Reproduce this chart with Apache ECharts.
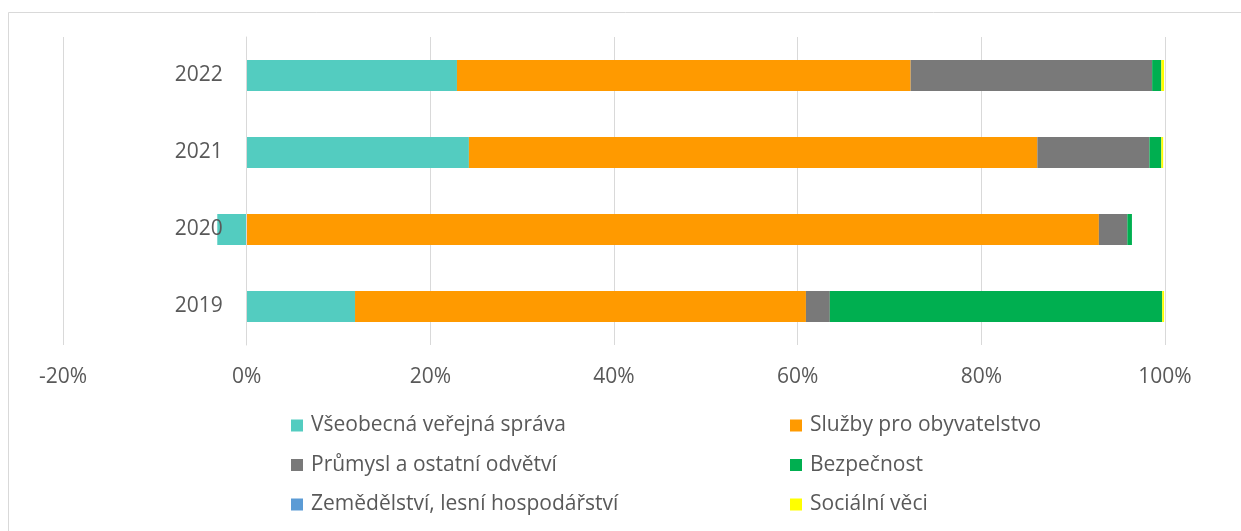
<!DOCTYPE html>
<html>
<head>
<meta charset="utf-8">
<script src="https://cdn.jsdelivr.net/npm/echarts@6/dist/echarts.min.js"></script>
<style>
  html, body { margin: 0; padding: 0; background: #fff; }
  #chart { width: 1241px; height: 531px; }
</style>
</head>
<body>
<div id="chart"></div>
<script>
const years = ['2019', '2020', '2021', '2022'];
const xTicks = [-20, 0, 20, 40, 60, 80, 100];

// shares in %
const spravaData = [11.8, -3.2, 24.2, 22.9];
const sluzbyData = [49.1, 92.8, 61.9, 49.4];
const prumyslData = [2.6, 3.1, 12.2, 26.3];
const bezpecnostData = [36.2, 0.5, 1.3, 1.0];
const zemedelstviData = [0, 0, 0, 0];
const socialniData = [0.2, 0, 0.2, 0.3];

const seriesDefs = [
  { name: 'Všeobecná veřejná správa', color: '#53CCC0', data: spravaData },
  { name: 'Služby pro obyvatelstvo', color: '#FF9A00', data: sluzbyData },
  { name: 'Průmysl a ostatní odvětví', color: '#797979', data: prumyslData },
  { name: 'Bezpečnost', color: '#00AF50', data: bezpecnostData },
  { name: 'Zemědělství, lesní hospodářství', color: '#5B9BD5', data: zemedelstviData },
  { name: 'Sociální věci', color: '#FFFF00', data: socialniData }
];

const font = '"Open Sans", "Noto Sans", sans-serif';
const textColor = '#595959';
const gridColor = '#d9d9d9';

const gridLeft = 63;
const gridRight = 76;
const plotWidth = 1241 - gridLeft - gridRight;
// the category axis sits at value 0, like in Excel
const zeroOffset = -plotWidth * 20 / 120;

const chart = echarts.init(document.getElementById('chart'));

const legendBase = {
  orient: 'vertical',
  top: 410,
  icon: 'rect',
  itemWidth: 12,
  itemHeight: 12,
  itemGap: 18.5,
  textStyle: { fontFamily: font, fontSize: 21, color: textColor, padding: [0, 0, 0, 3] },
  selectedMode: false
};

chart.setOption({
  animation: false,
  backgroundColor: '#fff',
  graphic: [
    {
      type: 'rect',
      shape: { x: 8.5, y: 12.5, width: 1400, height: 700 },
      style: { fill: 'none', stroke: gridColor, lineWidth: 1 },
      silent: true,
      z: -1
    }
  ],
  grid: { left: gridLeft, right: gridRight, top: 37, bottom: 186, containLabel: false, outerBoundsMode: 'none' },
  legend: [
    Object.assign({}, legendBase, { left: 286, data: [seriesDefs[0].name, seriesDefs[2].name, seriesDefs[4].name] }),
    Object.assign({}, legendBase, { left: 785, data: [seriesDefs[1].name, seriesDefs[3].name, seriesDefs[5].name] })
  ],
  xAxis: {
    type: 'value',
    min: -20,
    max: 100,
    interval: 20,
    axisLine: { show: false },
    axisTick: { show: false },
    splitLine: { lineStyle: { color: gridColor, width: 1 } },
    axisLabel: {
      margin: 22,
      fontFamily: font,
      fontSize: 21,
      color: textColor,
      formatter: v => (xTicks.includes(v) ? v + '%' : '')
    }
  },
  yAxis: {
    type: 'category',
    data: years,
    position: 'left',
    offset: zeroOffset,
    z: 3,
    axisLine: { onZero: false, lineStyle: { color: gridColor, width: 1 } },
    axisTick: { show: false },
    axisLabel: { margin: 24, fontFamily: font, fontSize: 21, color: textColor }
  },
  series: seriesDefs.map(s => ({
    name: s.name,
    type: 'bar',
    stack: 'total',
    barWidth: 31,
    itemStyle: { color: s.color },
    data: s.data
  }))
});
</script>
</body>
</html>
